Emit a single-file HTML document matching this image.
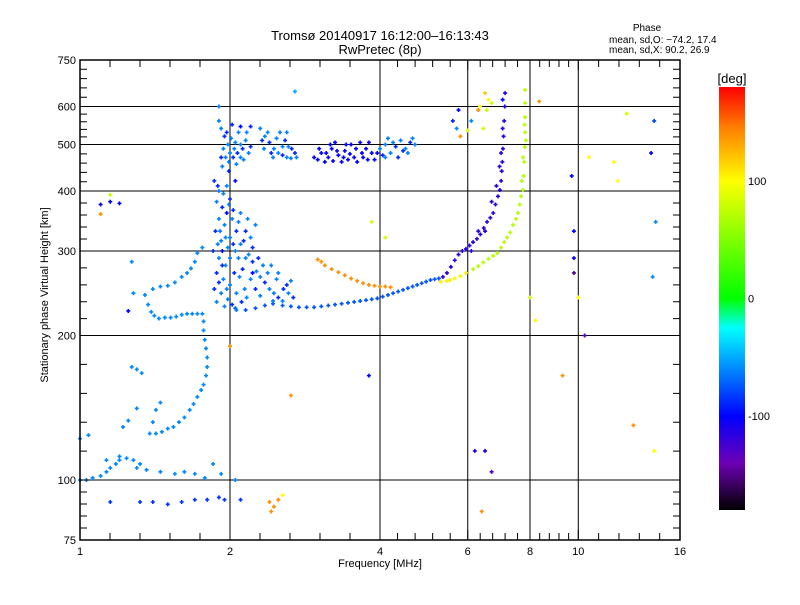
<!DOCTYPE html>
<html><head><meta charset="utf-8"><style>
body{margin:0;background:#fff;}
svg text{font-family:"Liberation Sans",sans-serif;fill:#000;}
</style></head><body>
<svg id="chart" width="800" height="600" xmlns="http://www.w3.org/2000/svg">
<defs>
<linearGradient id="cmap" x1="0" y1="1" x2="0" y2="0">
<stop offset="0" stop-color="#000000"/>
<stop offset="0.111" stop-color="#6e00b4"/>
<stop offset="0.222" stop-color="#0000ff"/>
<stop offset="0.43" stop-color="#00ffff"/>
<stop offset="0.5" stop-color="#00ff00"/>
<stop offset="0.778" stop-color="#ffff00"/>
<stop offset="0.903" stop-color="#ff8000"/>
<stop offset="1" stop-color="#ff0000"/>
</linearGradient>
</defs>
<text x="380" y="40" font-size="13" text-anchor="middle">Tromsø 20140917 16:12:00–16:13:43</text>
<text x="380" y="54" font-size="13" text-anchor="middle">RwPretec (8p)</text>
<text x="647" y="31" font-size="10" text-anchor="middle">Phase</text>
<text x="609" y="43" font-size="10">mean, sd,O: −74.2, 17.4</text>
<text x="609" y="53" font-size="10">mean, sd,X:  90.2, 26.9</text>
<g id="grid"></g>
<g id="points"></g>
<rect x="80" y="60" width="600" height="480" fill="none" stroke="#000" stroke-width="1.5"/>
<g id="ticks"></g>
<text x="380" y="567" font-size="11" text-anchor="middle">Frequency [MHz]</text>
<text x="48" y="295" font-size="11" text-anchor="middle" transform="rotate(-90 48 295)">Stationary phase Virtual Height [km]</text>
<rect x="719" y="87" width="26" height="423" fill="url(#cmap)"/>
<text x="732" y="83" font-size="13" text-anchor="middle">[deg]</text>
<g id="cbticks"></g>
</svg>
<script>
const xTicks=[1,2,4,6,8,10,16];
const xGrid=[2,4,6,8,10];
const yTicks=[75,100,200,300,400,500,600,750];
const yGrid=[100,200,300,400,500,600];
const cbTicks=[100,0,-100];
// points: [freq MHz, height km, phase deg]
const oTrace=[[2.05,228],[2.15,226],[2.25,228],[2.35,231],[2.44,233],[2.55,231],[2.65,230],[2.75,229],[2.85,229],[2.95,229],[3.05,230],[3.15,231],[3.25,232],[3.35,233],[3.45,234],[3.55,235],[3.65,236],[3.75,237],[3.85,238],[3.95,239],[4.05,241],[4.15,243],[4.25,245],[4.35,247],[4.45,249],[4.55,251],[4.65,253],[4.75,255],[4.85,257],[4.95,259],[5.05,261],[5.15,262],[5.25,263],[5.35,265],[5.45,270],[5.55,278],[5.65,287],[5.75,295],[5.85,300],[5.95,303],[6.05,308],[6.15,313],[6.26,318],[6.36,325],[6.46,335],[6.56,345],[6.66,352],[6.75,360],[6.82,375],[6.9,390],[6.96,402],[7.0,420],[7.02,440],[7.04,460],[7.06,490],[7.08,520],[7.1,560],[7.12,600],[7.13,640],[6.7,380],[6.85,410],[6.95,450],[7.0,480],[7.05,540],[6.5,330],[6.3,330],[6.1,300]];
const xTrace=[[5.3,259],[5.45,260],[5.53,261],[5.65,263],[5.8,266],[5.95,270],[6.15,275],[6.3,279],[6.45,284],[6.6,289],[6.75,293],[6.88,297],[7.0,305],[7.1,313],[7.2,320],[7.3,328],[7.4,340],[7.5,350],[7.57,360],[7.63,375],[7.68,390],[7.74,402],[7.77,430],[7.79,460],[7.81,494],[7.82,530],[7.82,570],[7.82,610],[7.82,650],[7.7,420],[7.75,470],[7.85,510],[7.8,550]];
const orangeTrace=[[3.0,288],[3.05,285],[3.1,280],[3.2,275],[3.3,271],[3.4,267],[3.5,263],[3.6,260],[3.7,257],[3.8,255],[3.9,254],[4.0,253],[4.1,253],[4.2,252]];
const lowTraces=[[1.0,100],[1.03,100],[1.06,101],[1.1,102],[1.13,104],[1.15,106],[1.18,108],[1.2,112],[1.24,111],[1.28,110],[1.32,108],
[1.38,125],[1.42,125],[1.46,126],[1.5,128],[1.54,129],[1.58,132],[1.62,135],[1.66,140],[1.69,144],[1.72,149],[1.75,154],[1.77,158],[1.79,165],[1.8,172],[1.8,180],[1.79,188],[1.78,196],[1.77,205],[1.77,214],[1.76,222],
[1.72,222],[1.68,222],[1.64,222],[1.6,221],[1.56,219],[1.52,218],[1.48,218],[1.44,217],[1.41,220],[1.39,224],[1.37,232],[1.35,243],
[1.40,250],[1.45,253],[1.5,254],[1.55,258],[1.6,265],[1.64,270],[1.67,276],[1.7,285],[1.72,297],[1.76,305],
[1.0,122],[1.04,124],[1.27,172],[1.3,170],[1.33,167],[1.3,141],[1.25,133],[1.22,129],[1.42,140],[1.45,145],[1.4,132],
[1.15,90],[1.32,90],[1.4,90],[1.5,89],[1.6,90],[1.7,91],[1.8,91],[1.9,92],[1.95,91],[2.1,91],
[1.13,110],[1.2,110],[1.3,106],[1.36,105],[1.45,104],[1.55,103],[1.62,104],[1.7,103],[1.78,101],[1.85,108],[1.92,103],[2.05,100]];
const cloudLight=[[1.86,420],[1.9,400],[1.88,380],[1.93,370],[1.9,350],[1.95,340],[1.87,330],[1.92,315],[1.98,305],[1.85,300],[1.9,290],[1.96,280],[1.88,270],[1.94,262],[2.0,255],[1.86,250],[1.92,245],[1.98,238],[2.02,232],[2.06,226],[1.95,230],[2.04,270],[2.08,290],[2.1,310],[2.06,330],[2.02,350],[2.1,360],[2.0,385],[1.97,410],[2.05,300],[2.12,275],[2.14,250],[2.0,320],
[1.89,410],[1.94,395],[1.99,375],[2.03,365],[1.91,330],[1.96,320],[2.03,310],[2.08,345],[1.89,310],[1.93,280],[2.0,290],[2.09,265],[1.9,258],[1.97,250],[2.06,245],[2.11,235],[1.88,235],[2.15,290],[2.13,315],[2.17,350],
[2.18,295],[2.22,285],[2.26,272],[2.3,265],[2.35,258],[2.4,250],[2.45,245],[2.5,240],[2.55,236],[2.2,262],[2.25,250],[2.3,242],[2.16,240],[2.28,290],[2.38,270],[2.48,262],[2.6,255],[2.62,245],[2.42,280],[2.68,240],[2.2,320],[2.25,340],[2.15,330],[2.33,280],[2.5,270],[2.56,250],[2.65,260],[2.44,236],[2.22,305],
[1.9,560],[1.92,540],[1.95,520],[1.98,500],[2.0,480],[2.03,470],[2.06,455],[2.1,470],[2.12,490],[2.15,510],[2.08,530],[2.02,550],[1.96,470],[1.93,450],[1.99,440],[2.18,480],[2.05,505],[2.2,495],[1.9,600],
[1.94,490],[1.97,530],[2.01,515],[2.04,490],[2.07,480],[2.1,500],[2.13,465],[1.92,470],[1.99,460],[2.16,530],[2.2,545],
[2.3,540],[2.35,520],[2.4,505],[2.45,490],[2.5,480],[2.55,475],[2.6,470],[2.65,468],[2.7,480],[2.38,530],[2.48,515],[2.58,510],[2.62,495],[2.52,530],[2.42,480],[2.72,470],[2.34,490],[2.32,510],[2.44,470],[2.55,495],[2.66,490],[2.6,530],
[4.0,490],[4.05,475],[4.1,500],[4.2,480],[4.3,495],[4.4,510],[4.5,490],[4.6,505],[4.7,500],[4.15,515],[4.35,470],[4.55,480],[4.25,505],[4.45,485],[4.1,470],[4.65,515]];
const cloudDark=[[2.95,470],[3.0,465],[3.05,480],[3.1,460],[3.15,470],[3.2,490],[3.3,475],[3.35,460],[3.4,485],[3.5,500],[3.55,470],[3.6,460],[3.7,470],[3.75,490],[3.8,505],[3.85,480],[3.9,465],[3.65,505],[3.25,505],[3.45,465],[1.97,360],[2.05,420],[2.22,270],[1.93,300],[2.1,545],
[3.02,490],[3.12,480],[3.22,462],[3.28,485],[3.42,500],[3.48,478],[3.58,490],[3.68,480],[3.78,465],[3.95,480],[3.38,470],[3.18,500]];
const strays=[[5.6,560,-90],[5.7,540,-60],[5.75,590,-100],[5.8,520,140],[6.0,535,80],[6.1,560,-60],[6.3,590,140],[6.35,600,100],[6.5,640,120],[6.6,620,100],[6.55,590,80],[6.7,610,80],[6.45,540,80],
[1.15,380,-100],[1.1,375,-100],[1.2,377,-100],[1.15,393,80],[1.1,358,140],[1.27,285,-60],[1.28,245,-60],[1.25,225,-100],[2.0,190,140],[2.7,645,-50],[3.85,345,80],[4.1,320,80],[3.8,165,-100],[2.65,150,140],[2.4,90,140],[2.45,88,140],[2.5,91,140],[2.55,93,100],[2.42,86,140],[6.2,115,-110],[6.5,115,-110],[6.4,86,140],[6.7,104,-130],[7.05,620,-100],[8.35,615,140],[8.0,240,80],[8.2,215,100],[9.3,165,140],[9.7,430,-100],[9.8,290,-100],[9.8,270,-150],[10.5,470,100],[10.3,200,-130],[12.0,420,100],[11.8,460,100],[12.5,580,80],[12.9,130,140],[14.0,480,-100],[14.2,560,-80],[14.3,345,-60],[14.1,265,-60],[14.2,115,100],[9.8,330,-100],[10.0,240,100]];

function xs(f){return 80+150*Math.log2(f);}
function ys(h){return 540-480*Math.log10(h/75);}
const stops=[[-180,[0,0,0]],[-140,[110,0,180]],[-100,[0,0,255]],[-25,[0,255,255]],[0,[0,255,0]],[100,[255,255,0]],[145,[255,128,0]],[180,[255,0,0]]];
function col(p){p=Math.max(-180,Math.min(180,p));for(let i=1;i<stops.length;i++){if(p<=stops[i][0]){const a=stops[i-1],b=stops[i],t=(p-a[0])/(b[0]-a[0]);const c=a[1].map((v,k)=>Math.round(v+(b[1][k]-v)*t));return `rgb(${c})`;}}return 'rgb(255,0,0)';}
const NS='http://www.w3.org/2000/svg';
function mk(tag,attrs,parent){const e=document.createElementNS(NS,tag);for(const k in attrs)e.setAttribute(k,attrs[k]);parent.appendChild(e);return e;}
const grid=document.getElementById('grid'),ticks=document.getElementById('ticks'),pts=document.getElementById('points'),cbt=document.getElementById('cbticks');
xGrid.forEach(f=>{const l=mk('line',{x1:xs(f),x2:xs(f),y1:60,y2:540,stroke:'#000','stroke-width':1},grid);

});
yGrid.forEach(h=>{const l=mk('line',{x1:80,x2:680,y1:ys(h),y2:ys(h),stroke:'#000','stroke-width':1},grid);

});
xTicks.forEach(f=>{const t=mk('text',{x:xs(f),y:555,'font-size':11,'text-anchor':'middle'},ticks);t.textContent=f;

});
yTicks.forEach(h=>{const t=mk('text',{x:76,y:ys(h)+4,'font-size':11,'text-anchor':'end'},ticks);t.textContent=h;

});
let d='';
for(let i=0;i<xTicks.length-1;i++){const a=xs(xTicks[i]),b=xs(xTicks[i+1]);for(let k=0;k<=5;k++){const x=a+(b-a)*k/5;const L=(k==0||k==5)?10:7;d+=`M${x} 60v${L}M${x} 540v${-L}`;}}
for(let i=0;i<yTicks.length-1;i++){const a=ys(yTicks[i]),b=ys(yTicks[i+1]);for(let k=0;k<=5;k++){const y=a+(b-a)*k/5;const L=(k==0||k==5)?10:7;d+=`M80 ${y}h${L}M680 ${y}h${-L}`;}}
const tp=mk('path',{d:d,stroke:'#000','stroke-width':1,fill:'none'},ticks);


cbTicks.forEach(p=>{const y=510-(p+180)/360*423;const t=mk('text',{x:748,y:y+4,'font-size':11},cbt);t.textContent=p;

});
function plot(arr,phaseFn,name){arr.forEach((q,i)=>{const x=xs(q[0]),y=ys(q[1]);const p=q.length>2?q[2]:phaseFn(q,i);
const e=mk('path',{d:`M${x-2} ${y}h4M${x} ${y-2}v4`,stroke:col(p),'stroke-width':1.6},pts);

});}
plot(oTrace,q=>q[0]<5.3?-75:-115,'o-trace-point');
plot(xTrace,q=>q[0]<6?105:70,'x-trace-point');
plot(orangeTrace,()=>140,'orange-trace-point');
plot(lowTraces,q=>q[1]<95?-85:-60,'e-trace-point');
plot(cloudLight,(q,i)=>i%3==0?-88:-62,'cloud-point');
plot(cloudDark,()=>-100,'cloud-point-dark');
plot(strays,()=>0,'stray-point');
</script>
</body></html>
